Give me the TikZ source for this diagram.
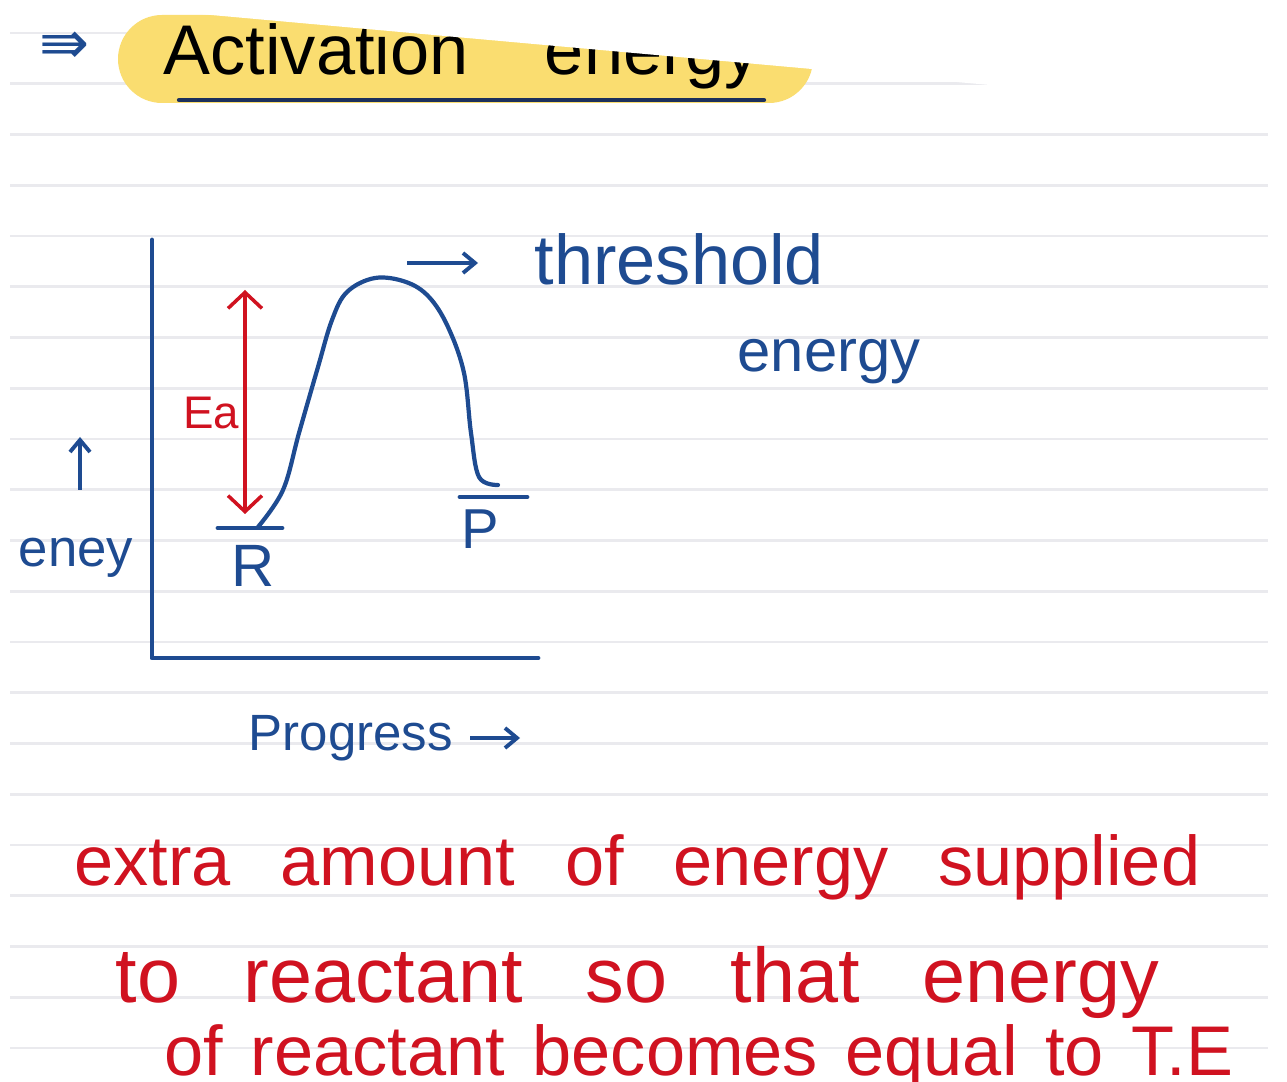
\documentclass[tikz,border=0pt]{standalone}
\usepackage{fontspec}
\setmainfont{Liberation Sans}
\newfontfamily\symfont{DejaVu Sans}
\usepackage{xcolor}
\usetikzlibrary{arrows.meta}

\definecolor{ink}{RGB}{30,75,145}
\definecolor{redink}{RGB}{208,18,32}
\definecolor{marker}{RGB}{250,221,112}
\definecolor{navy}{RGB}{28,48,92}
\definecolor{ruling}{RGB}{234,234,238}
\newcommand{\penfont}[1]{\fontsize{#1}{#1}\selectfont}

\begin{document}
\begin{tikzpicture}[x=0.01cm, y=-0.01cm, every node/.style={inner sep=0pt},
  pen/.style={text=ink, anchor=base west},
  redpen/.style={text=redink, anchor=base west, font=\penfont{20}},
  inkline/.style={draw=ink, line width=1.4pt, line cap=round, line join=round},
  barb/.style={line width=1.1pt, -{Straight Barb[length=0.12cm, width=0.2cm]}},
  rule/.style={draw=ruling, line width=0.8pt}]
\useasboundingbox (0,0) rectangle (1287,1082);
\clip (0,0) rectangle (1287,1082);
\fill[white] (0,0) rectangle (1287,1082);
% ruled page
\foreach \k in {0,...,20}
  \draw[rule] (10,{33+50.75*\k}) -- (1268,{33+50.75*\k});

% heading
\fill[marker, rounded corners=0.44cm] (118,15) rectangle (813,103);
\node[pen, text=black, font=\penfont{20}] (title) at (163,75) {\makebox[5.96cm][s]{Activation energy}};
\draw[navy, line width=1.2pt, line cap=round] (179,100) -- (764,100);
\node[text=ink, font={\symfont\penfont{17}}] (mark) at (65,48) {⇛};
\fill[white] (0,-4) -- (1268,110) -- (1287,110) -- (1287,-10) -- (0,-10) -- cycle;

% energy profile
\draw[inkline] (152,240) -- (152,658) -- (538,658);
\draw[inkline] (218,528) -- (282,528);
\draw[inkline] (460,497) -- (527,497);
\draw[inkline, line width=1.2pt] plot[smooth, tension=0.6] coordinates {
  (258,527) (283,490) (299,433) (318,367) (332,320) (347,292) (375,278)
  (406,282) (429,297) (448,327) (464,373) (471,433) (479,477) (498,485)};
\node[text=ink, font=\penfont{17}] (R) at (253,566) {R};
\node[text=ink, font=\penfont{16}] (P) at (480,529) {P};

\coordinate (eaTop) at (245,290);
\coordinate (eaBot) at (245,514);
\draw[redink, line width=1pt, {Straight Barb[length=0.16cm, width=0.34cm]}-{Straight Barb[length=0.16cm, width=0.34cm]}] (eaTop) -- (eaBot);
\node[text=redink, font=\penfont{13}] (ea) at (211,413) {Ea};

\node[pen, font=\penfont{20}] (thr) at (534,285) {threshold};
\node[pen, font=\penfont{17}] (thr2) at (737,372) {energy};
\coordinate (thA) at (407,263);
\coordinate (thB) at (478,263);
\draw[ink, barb] (thA) -- (thB);

\node[pen, font=\penfont{15}] (eney) at (18,567) {eney};
\coordinate (upFoot) at (80,490);
\coordinate (upHead) at (80,437);
\draw[ink, barb] (upFoot) -- (upHead);

\node[pen, font=\penfont{14.5}] (prog) at (248,750) {Progress};
\coordinate (pgA) at (470,738);
\coordinate (pgB) at (520,738);
\draw[ink, barb] (pgA) -- (pgB);

% definition
\node[redpen] (def1) at (74,885) {\makebox[11.25cm][s]{extra amount of energy supplied}};
\node[redpen, font=\penfont{22}] (def2) at (115,1002) {\makebox[10.43cm][s]{to reactant so that energy}};
\node[redpen] (def3) at (164,1075) {\makebox[10.68cm][s]{of reactant becomes equal to T.E}};
\end{tikzpicture}
\end{document}
